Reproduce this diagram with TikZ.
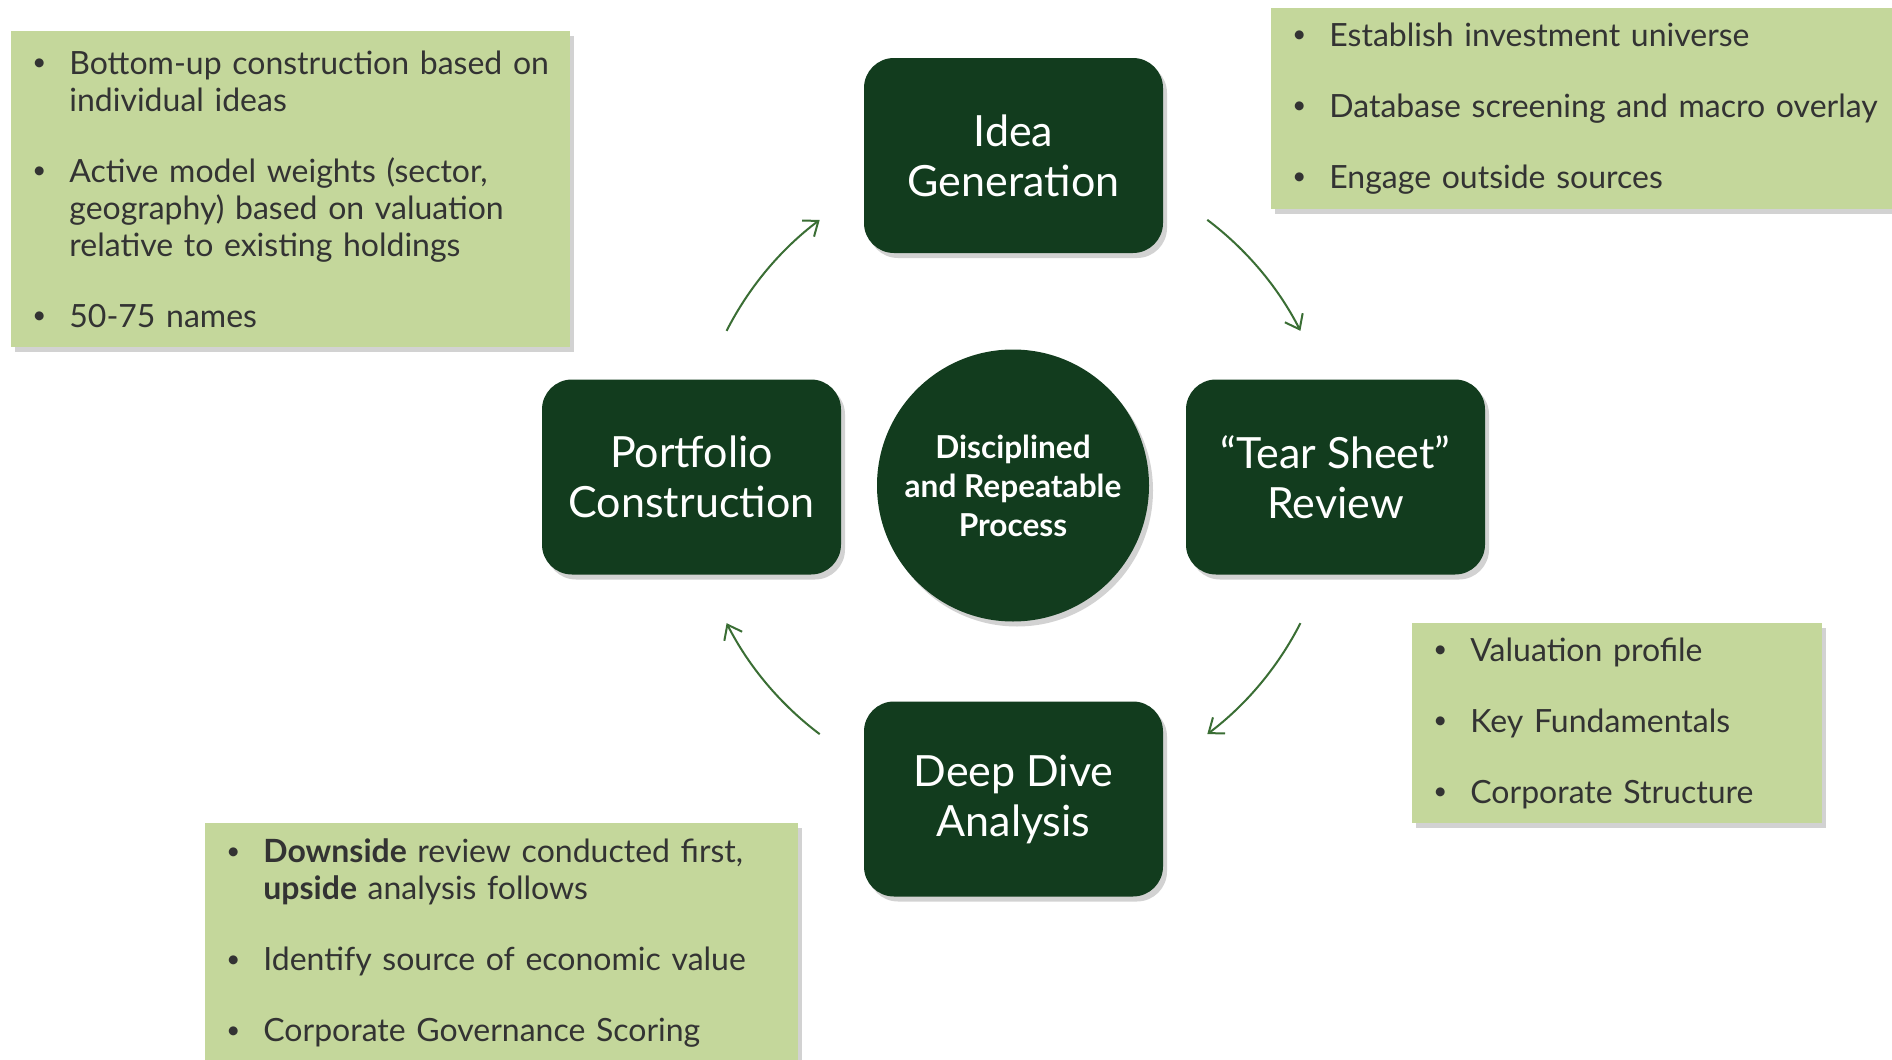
\documentclass[tikz,border=0pt]{standalone}
\usepackage{fontspec}
\setmainfont{Lato}
\usetikzlibrary{arrows.meta,shadows}

\definecolor{deepgreen}{HTML}{123C1E}
\definecolor{sage}{HTML}{C4D79B}
\definecolor{leaf}{HTML}{3A6E34}
\definecolor{ink}{HTML}{333333}

% bullet lines for the note boxes
\newcommand\smallbul{\hspace{1.5pt}\raisebox{0.12em}{\scalebox{0.75}{\textbullet}}}
\newcommand\firstln[1]{\makebox[20pt][l]{\smallbul}\mbox{#1}}
\newcommand\nextln[1]{\hspace*{20pt}\mbox{#1}}

\tikzset{
  stage/.style={rectangle, rounded corners=15pt, fill=deepgreen, text=white,
    minimum width=149.5pt, minimum height=97.5pt, inner sep=0pt, align=center,
    font=\fontsize{21.5}{25}\selectfont,
    drop shadow={opacity=0.35, shadow xshift=2pt, shadow yshift=-2.5pt}},
  core/.style={circle, fill=deepgreen, text=white, minimum size=136pt,
    inner sep=0pt, align=center, font=\fontsize{15.8}{19.5}\selectfont\bfseries,
    drop shadow={opacity=0.35, shadow xshift=2pt, shadow yshift=-2.5pt}},
  notes/.style={rectangle, fill=sage, text=ink, anchor=north west, align=left,
    inner xsep=9pt, inner ysep=0pt, font=\fontsize{16}{18.5}\selectfont,
    drop shadow={opacity=0.35, shadow xshift=2pt, shadow yshift=-2.5pt}},
  flow/.style={draw=leaf, line width=1pt, -{Straight Barb[length=6.5pt,width=10pt]}}
}

\begin{document}
\begin{tikzpicture}[x=0.5pt, y=-0.5pt]
  \useasboundingbox (0,0) rectangle (1892,1060);
  \clip (0,0) rectangle (1892,1060);
  \fill[white] (0,0) rectangle (1892,1060);

  % note boxes
  \node[notes, minimum width=279.5pt, minimum height=158pt, text width=261.5pt] (portnotes) at (11,31) {%
    \firstln{Bottom-up construction based on}\\
    \nextln{individual ideas}\\[17pt]
    \firstln{Active model weights (sector,}\\
    \nextln{geography) based on valuation}\\
    \nextln{relative to existing holdings}\\[17pt]
    \firstln{50-75 names}};
  \node[notes, minimum width=330pt, minimum height=100.5pt, text width=312pt] (ideanotes) at (1271,8) {%
    \firstln{Establish investment universe}\\[17pt]
    \firstln{Database screening and macro overlay}\\[17pt]
    \firstln{Engage outside sources}};
  \node[notes, minimum width=205pt, minimum height=100pt, text width=187pt] (tearnotes) at (1412,623) {%
    \firstln{Valuation profile}\\[17pt]
    \firstln{Key Fundamentals}\\[17pt]
    \firstln{Corporate Structure}};
  \node[notes, minimum width=296.5pt, minimum height=120pt, text width=278.5pt] (deepnotes) at (205,823) {%
    \firstln{\textbf{Downside} review conducted first,}\\
    \nextln{\textbf{upside} analysis follows}\\[17pt]
    \firstln{Identify source of economic value}\\[17pt]
    \firstln{Corporate Governance Scoring}};

  % process steps
  \node[stage] (idea) at (1013.5,155.5) {Idea\\Generation};
  \node[stage] (tear) at (1335.5,477) {``Tear Sheet''\\Review};
  \node[stage] (deep) at (1013.5,799) {Deep Dive\\Analysis};
  \node[stage] (port) at (691.5,477) {Portfolio\\Construction};
  \node[core] (core) at (1013,485.5) {Disciplined\\and Repeatable\\Process};

  % cycle arrows
  \coordinate (ring) at (1013.5,477);
  \foreach \a in {27,127,207,307}
    \draw[flow] ([shift={(\a:322)}]ring) arc[start angle=\a, delta angle=26, radius=322];
\end{tikzpicture}
\end{document}
